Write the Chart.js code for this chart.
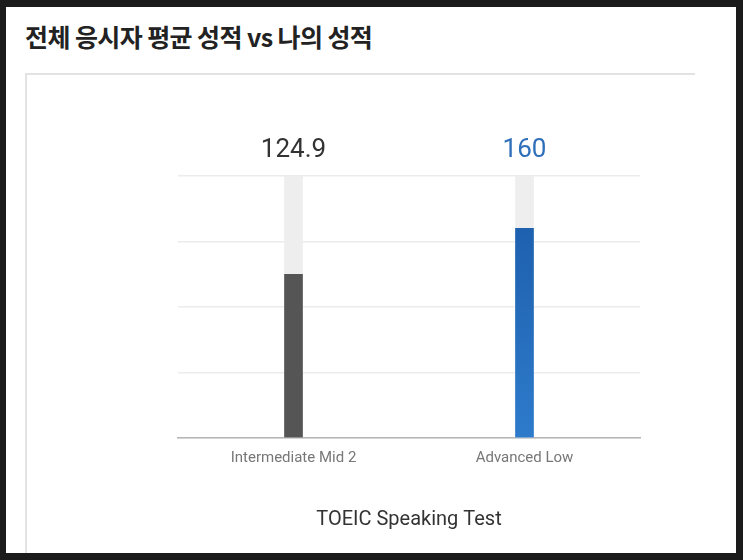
<!DOCTYPE html>
<html>
<head>
<meta charset="utf-8">
<script src="https://cdn.jsdelivr.net/npm/chart.js@4"></script>
<style>
  html, body { margin: 0; padding: 0; }
  body { width: 743px; height: 560px; background: #1b1b1b; position: relative; overflow: hidden; }
  .page { position: absolute; left: 6px; top: 7px; width: 730px; height: 546px; background: #fff; overflow: hidden; }
  .title { position: absolute; left: 19px; top: 11px; font-family: "Noto Sans CJK KR", sans-serif; font-weight: 700; font-size: 25px; color: #222; letter-spacing: -0.6px; white-space: nowrap; }
  .card { position: absolute; left: 19px; top: 66px; width: 668px; height: 520px; border-left: 2px solid #e2e2e2; border-top: 2px solid #e2e2e2; }
  #wrap { position: absolute; left: 0; top: 0; width: 743px; height: 560px; }
</style>
</head>
<body>
<div class="page">
  <div class="title">전체 응시자 평균 성적 vs 나의 성적</div>
  <div class="card"></div>
</div>
<div id="wrap"><canvas id="scoreChart"></canvas></div>
<script>
const categories = ["Intermediate Mid 2", "Advanced Low"];
const scores = [124.9, 160];
const maxScore = [200, 200];
const labelColors = ["#333333", "#2f6fba"];

// score numbers above each bar
const valueLabels = {
  id: "valueLabels",
  afterDatasetsDraw(chart) {
    const ctx = chart.ctx;
    const meta = chart.getDatasetMeta(0);
    ctx.save();
    ctx.font = "26px Roboto, sans-serif";
    ctx.textAlign = "center";
    ctx.textBaseline = "middle";
    meta.data.forEach((bar, i) => {
      ctx.fillStyle = labelColors[i];
      ctx.fillText(String(scores[i]), bar.x, chart.chartArea.top - 26);
    });
    ctx.restore();
  }
};

function barColor(context) {
  if (context.dataIndex === 0) return "#555555";
  const area = context.chart.chartArea;
  if (!area) return "#2368b8";
  const g = context.chart.ctx.createLinearGradient(0, area.top, 0, area.bottom);
  g.addColorStop(0, "#1a5aa8");
  g.addColorStop(1, "#2e7bcb");
  return g;
}

const ctx = document.getElementById("scoreChart");
new Chart(ctx, {
  type: "bar",
  data: {
    labels: categories,
    datasets: [
      {
        data: scores,
        backgroundColor: barColor,
        barThickness: 18,
        grouped: false,
        order: 0
      },
      {
        data: maxScore,
        backgroundColor: "#eeeeee",
        barThickness: 18,
        grouped: false,
        order: 1
      }
    ]
  },
  options: {
    responsive: true,
    maintainAspectRatio: false,
    animation: false,
    layout: { padding: { left: 178, right: 103, top: 176, bottom: 28 } },
    plugins: {
      legend: { display: false },
      tooltip: { enabled: false }
    },
    scales: {
      x: {
        grid: { display: false, drawTicks: false },
        border: { display: true, color: "#b5b5b5", width: 1.5 },
        ticks: {
          padding: 11,
          color: "#777",
          font: { family: "Roboto, sans-serif", size: 15 }
        },
        title: {
          display: true,
          text: "TOEIC Speaking Test",
          color: "#333",
          font: { family: "Roboto, sans-serif", size: 20 },
          padding: { top: 30, bottom: 0 }
        }
      },
      y: {
        min: 0,
        max: 200,
        ticks: { display: false, stepSize: 50 },
        grid: { color: "#ececec", lineWidth: 1.5, drawTicks: false },
        border: { display: false }
      }
    }
  },
  plugins: [valueLabels]
});
</script>
</body>
</html>
